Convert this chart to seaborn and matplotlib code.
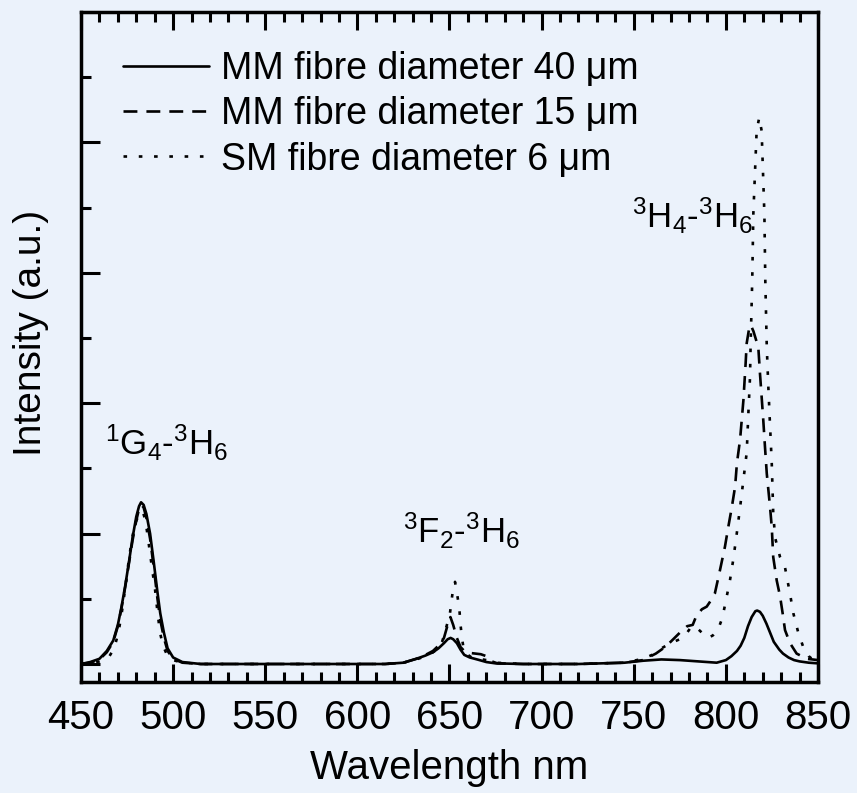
import numpy as np
import pandas as pd
import matplotlib
matplotlib.use("Agg")
import matplotlib.pyplot as plt
import seaborn as sns
from matplotlib.ticker import MultipleLocator

# ---------------- data ----------------
wl_mm40 = [450, 455, 460, 464, 467.5, 470, 472, 474, 476, 478, 480, 481.5, 482.6, 484,
           485.5, 487.5, 489.5, 491.5, 493, 495, 497, 500, 505, 515, 550, 600, 615, 625,
           632, 637, 641, 644, 647, 649, 650.6, 652, 654, 656, 658, 661, 665, 670, 675,
           690, 720, 745, 755, 765, 775, 785, 795, 800, 803, 806, 808, 810, 812, 814,
           816, 817, 818.5, 820, 822, 824, 826, 829, 831, 834, 837, 840, 845, 850]
int_mm40 = [0.0, 0.015, 0.04, 0.1, 0.18, 0.3, 0.44, 0.6, 0.78, 0.97, 1.13, 1.21, 1.24, 1.22,
            1.15, 1.0, 0.78, 0.55, 0.39, 0.24, 0.12, 0.05, 0.015, 0.0, 0.0, 0.0, 0.0, 0.01,
            0.04, 0.065, 0.09, 0.12, 0.16, 0.19, 0.2, 0.19, 0.16, 0.11, 0.07, 0.05, 0.035, 0.015, 0.005,
            0.0, 0.0, 0.01, 0.025, 0.035, 0.03, 0.02, 0.01, 0.03, 0.06, 0.1, 0.14, 0.2, 0.29, 0.36,
            0.405, 0.41, 0.4, 0.37, 0.31, 0.24, 0.17, 0.11, 0.08, 0.05, 0.03, 0.02, 0.01, 0.005]

wl_mm15 = [450, 455, 460, 464, 467.5, 470, 472, 474, 476, 478, 480, 481.5, 482.8, 484,
           485.5, 487.5, 489.5, 491.5, 493, 495, 497, 500, 505, 515, 600, 615, 625, 632,
           637, 641, 644, 647, 649, 650.5, 652, 654, 656, 658, 661, 664, 667, 670, 673,
           676, 690, 720, 745, 755, 762, 766, 770, 775, 779, 782, 784, 787, 789.6, 792,
           794, 796.8, 799.5, 801.3, 803.2, 805, 806, 807.7, 808.6, 809.5, 810.7, 811.3,
           812.7, 813.5, 815, 816.5, 817.6, 818.5, 819.4, 820.3, 821.2, 822.2, 824, 824.9,
           825.7, 827.6, 829.4, 830.8, 832.1, 834.8, 838.4, 843.9, 850]
int_mm15 = [0.0, 0.01, 0.035, 0.09, 0.17, 0.29, 0.43, 0.59, 0.77, 0.95, 1.1, 1.19, 1.22, 1.2,
            1.12, 0.96, 0.74, 0.5, 0.34, 0.2, 0.1, 0.04, 0.01, 0.0, 0.0, 0.0, 0.01, 0.04,
            0.07, 0.1, 0.14, 0.2, 0.3, 0.36, 0.3, 0.2, 0.13, 0.1, 0.085, 0.08, 0.075, 0.06, 0.02,
            0.005, 0.0, 0.0, 0.01, 0.03, 0.08, 0.12, 0.17, 0.24, 0.29, 0.3, 0.37, 0.42, 0.44, 0.49,
            0.54, 0.72, 0.9, 1.05, 1.2, 1.36, 1.54, 1.72, 1.87, 2.02, 2.3, 2.46,
            2.58, 2.6, 2.55, 2.48, 2.43, 2.23, 2.05, 1.87, 1.67, 1.46, 1.2, 1.05,
            0.82, 0.64, 0.52, 0.39, 0.26, 0.16, 0.08, 0.04, 0.03]

wl_sm6 = [450, 455, 460, 465, 468, 470.3, 472, 473.9, 475.5, 477.5, 479.5, 481.5, 483.5,
          485, 486.5, 488.5, 490.2, 491.5, 492.9, 494.5, 497, 500, 505, 515, 600, 615, 625,
          632, 637, 641, 644, 646, 647.6, 649, 649.9, 650.8, 651.7, 653, 654.2, 655.3, 656,
          656.6, 657.5, 659, 662, 666, 670, 675, 690, 720, 745, 755, 760, 765, 770, 775, 778,
          781.4, 784, 787, 790.5, 793, 795.9, 798, 799.5, 802.2, 804, 805.9, 807.7, 809.5,
          811.3, 812.2, 813.1, 813.4, 814.3, 814.9, 816.7, 818.1, 819.4, 820.9, 821.4, 822.2,
          823, 823.9, 824.9, 825.7, 826.7, 829.4, 832.1, 834.8, 836.6, 839.3, 842, 845,
          847.5, 850]
int_sm6 = [0.0, 0.005, 0.02, 0.05, 0.12, 0.24, 0.38, 0.57, 0.75, 0.95, 1.08, 1.15, 1.17,
           1.1, 0.95, 0.74, 0.57, 0.4, 0.24, 0.14, 0.06, 0.03, 0.01, 0.0, 0.0, 0.0, 0.01,
           0.035, 0.06, 0.09, 0.12, 0.17, 0.25, 0.32, 0.35, 0.45, 0.55, 0.63, 0.53, 0.43, 0.3,
           0.22, 0.13, 0.08, 0.05, 0.04, 0.03, 0.01, 0.0, 0.0, 0.01, 0.04, 0.07, 0.12, 0.16, 0.19, 0.22,
           0.29, 0.28, 0.24, 0.2, 0.22, 0.27, 0.35, 0.45, 0.64, 0.8, 1.0, 1.2, 1.41,
           1.62, 1.92, 2.2, 2.43, 2.94, 3.45, 4.09, 4.19, 4.09, 3.45, 2.94, 2.43,
           2.14, 1.85, 1.54, 1.16, 0.97, 0.82, 0.74, 0.54, 0.39, 0.24, 0.13, 0.06,
           0.03, 0.02]

series_labels = ["MM fibre diameter 40 \u03bcm",
                 "MM fibre diameter 15 \u03bcm",
                 "SM fibre diameter 6 \u03bcm"]

x_ticks = [450, 500, 550, 600, 650, 700, 750, 800, 850]

# ---------------- styling ----------------
BG = "#EBF2FB"
sns.set_theme(style="ticks")
plt.rcParams["font.family"] = ["Liberation Sans", "DejaVu Sans"]
plt.rcParams["mathtext.fontset"] = "custom"
plt.rcParams["mathtext.rm"] = "Liberation Sans"
plt.rcParams["mathtext.it"] = "Liberation Sans:italic"
plt.rcParams["mathtext.bf"] = "Liberation Sans:bold"
plt.rcParams["lines.scale_dashes"] = False
plt.rcParams["text.color"] = "black"
plt.rcParams["axes.labelcolor"] = "black"
plt.rcParams["xtick.color"] = "black"
plt.rcParams["ytick.color"] = "black"
plt.rcParams["axes.edgecolor"] = "black"

fig = plt.figure(figsize=(8.57, 7.93), dpi=100, facecolor=BG)
ax = fig.add_axes([81 / 857, 1 - 682 / 793, 737 / 857, 670 / 793])
ax.set_facecolor(BG)

dash_styles = [None, (10, 6.5), (2.6, 8.4)]
series = [(wl_mm40, int_mm40), (wl_mm15, int_mm15), (wl_sm6, int_sm6)]
for (wl, inten), lab, ds in zip(series, series_labels, dash_styles):
    df = pd.DataFrame({"wl": wl, "I": inten})
    sns.lineplot(data=df, x="wl", y="I", ax=ax, color="black", linewidth=1.9,
                 label=lab, sort=False, estimator=None)
    line = ax.lines[-1]
    if ds is not None:
        line.set_dashes(ds)
    line.set_dash_capstyle("butt")

ax.set_xlim(450, 850)
ax.set_ylim(-0.138, 5.0)
ax.set_xticks(x_ticks)
ax.xaxis.set_minor_locator(MultipleLocator(10))
ax.yaxis.set_major_locator(MultipleLocator(1))
ax.yaxis.set_minor_locator(MultipleLocator(0.5))
ax.set_yticklabels([])

ax.tick_params(axis="x", which="both", direction="in", top=True, bottom=True,
               width=2.2, color="black", labelcolor="black")
ax.tick_params(axis="x", which="major", length=13, labelsize=29, pad=12)
ax.tick_params(axis="x", which="minor", length=7)
ax.tick_params(axis="y", which="both", direction="in", left=True, right=False,
               width=2.2, color="black")
ax.tick_params(axis="y", which="major", length=14)
ax.tick_params(axis="y", which="minor", length=7)

for sp in ax.spines.values():
    sp.set_linewidth(2.5)
    sp.set_color("black")
    sp.set_visible(True)

ax.set_xlabel("Wavelength nm", fontsize=29, labelpad=9)
ax.set_ylabel("Intensity (a.u.)", fontsize=28)
ax.yaxis.set_label_coords(-0.044, 0.521)

leg = ax.legend(loc="upper left", bbox_to_anchor=(0.057, 0.942), frameon=False,
                fontsize=27, handlelength=2.3, handletextpad=0.3,
                labelspacing=0.25, borderpad=0, borderaxespad=0)
for t in leg.get_texts():
    t.set_color("black")

ax.text(463, 1.6, r"$\mathrm{^{1}G_{4}}$-$\mathrm{^{3}H_{6}}$", fontsize=25,
        ha="left", va="baseline")
ax.text(624.5, 0.93, r"$\mathrm{^{3}F_{2}}$-$\mathrm{^{3}H_{6}}$", fontsize=25,
        ha="left", va="baseline")
ax.text(749, 3.34, r"$\mathrm{^{3}H_{4}}$-$\mathrm{^{3}H_{6}}$", fontsize=25,
        ha="left", va="baseline")

fig.savefig("out.png", dpi=100, facecolor=BG)
